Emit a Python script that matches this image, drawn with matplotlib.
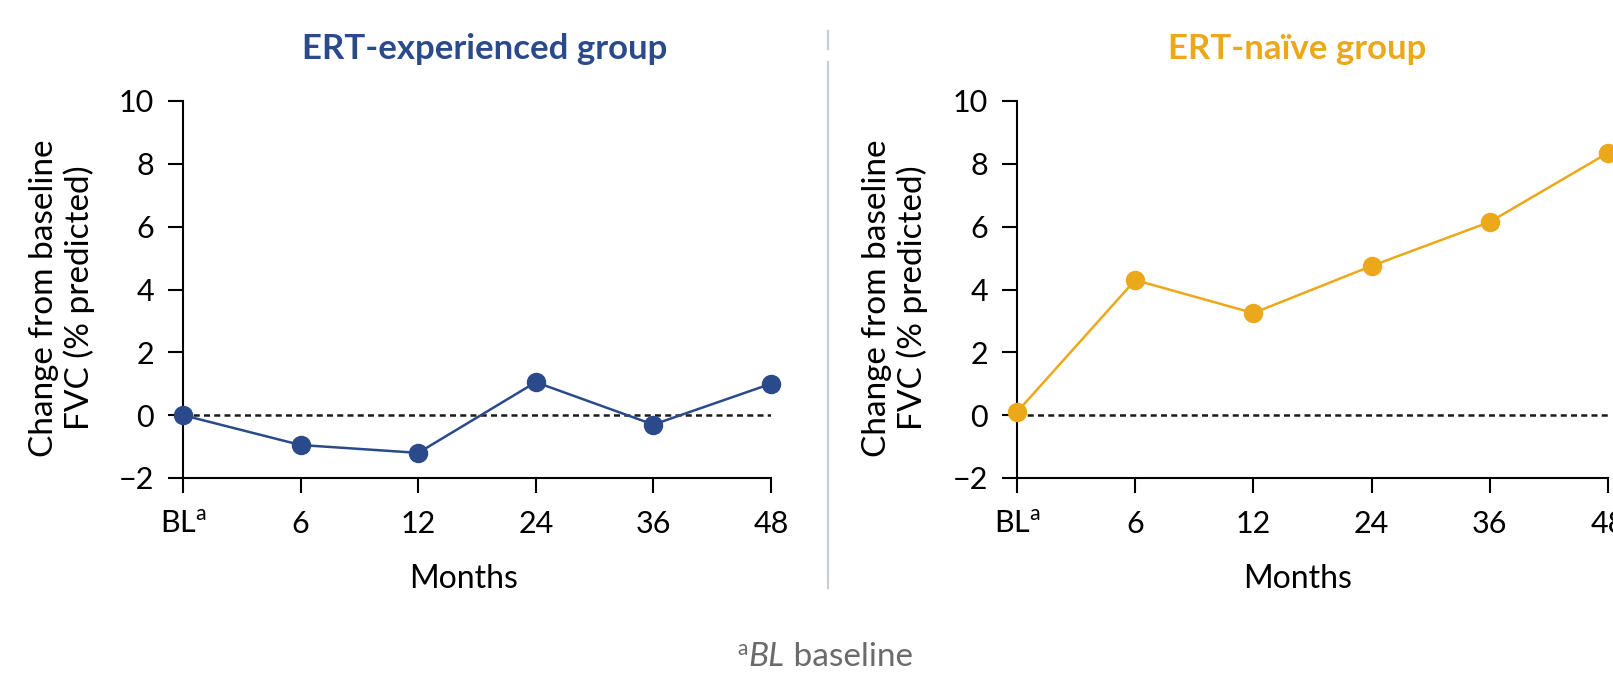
import numpy as np
import matplotlib
matplotlib.use("Agg")
import matplotlib.pyplot as plt
from matplotlib.lines import Line2D

months = ["BL$^{\\mathregular{a}}$", "6", "12", "24", "36", "48"]
experienced = [0.0, -0.95, -1.2, 1.05, -0.3, 1.0]
naive = [0.1, 4.3, 3.25, 4.75, 6.15, 8.35]
yticks = [-2, 0, 2, 4, 6, 8, 10]

blue = "#2b4a8c"
orange = "#eba81a"

plt.rcParams["font.family"] = ["Lato", "DejaVu Sans"]
plt.rcParams["mathtext.fontset"] = "custom"
plt.rcParams["mathtext.rm"] = "Lato"

W, H = 1613, 674
fig = plt.figure(figsize=(W / 100, H / 100), dpi=100)


def px(x, y):
    return x / W, 1 - y / H


def panel(left, right, values, color, title, title_x, label_x, months_x):
    x0, _ = px(left, 0)
    x1, _ = px(right, 0)
    _, y1 = px(0, 101)
    _, y0 = px(0, 478)
    ax = fig.add_axes([x0, y0, x1 - x0, y1 - y0])
    xs = np.arange(len(values))
    ax.axhline(0, color="#1a1a1a", linestyle=(0, (2.4, 1.7)), linewidth=1.8, zorder=1)
    ax.plot(xs, values, color=color, linewidth=1.8, marker="o", markersize=13,
            clip_on=False, zorder=3)
    ax.set_xlim(0, len(values) - 1)
    ax.set_ylim(-2, 10)
    ax.set_yticks(yticks)
    ax.set_xticks(xs)
    ax.set_xticklabels(months)
    for s in ["top", "right"]:
        ax.spines[s].set_visible(False)
    for s in ["left", "bottom"]:
        ax.spines[s].set_linewidth(1.5)
    ax.tick_params(axis="both", direction="out", length=11, width=1.5, labelsize=22)
    ax.tick_params(axis="x", pad=12)
    ax.tick_params(axis="y", pad=10)
    fig.text(*px(title_x, 49), title, color=color, fontsize=25, fontweight="bold",
             ha="center", va="center")
    fig.text(*px(label_x, 298), "Change from baseline\nFVC (% predicted)", rotation=90,
             fontsize=24, ha="center", va="center", linespacing=1.2)
    fig.text(*px(months_x, 579), "Months", fontsize=23, ha="center", va="center")
    return ax


panel(183, 771, experienced, blue, "ERT-experienced group", 485, 62, 464)
panel(1017, 1608, naive, orange, "ERT-naïve group", 1297, 895, 1298)

# divider between the two panels
grey = "#c9cfd2"
fig.add_artist(Line2D([828 / W] * 2, [1 - 31 / H, 1 - 49 / H], color=grey, linewidth=1.6))
fig.add_artist(Line2D([828 / W] * 2, [1 - 62 / H, 1 - 588 / H], color=grey, linewidth=1.6))

# footnote, built from pieces so "a" is raised and "BL" italic
overlay = fig.add_axes([0, 0, 1, 1])
overlay.axis("off")
fn_color = "#6b6b6b"
t1 = overlay.text(*px(737, 655), "a", fontsize=15, color=fn_color, ha="left", va="baseline",
                  transform=fig.transFigure)
t2 = overlay.annotate("BL", xy=(1, 0), xycoords=t1, xytext=(1, -9), textcoords="offset points",
                      fontsize=24, style="italic", color=fn_color, ha="left", va="bottom")
overlay.annotate(" baseline", xy=(1, 0), xycoords=t2, xytext=(0, 0), textcoords="offset points",
                 fontsize=24, color=fn_color, ha="left", va="bottom")

fig.savefig("out.png", dpi=100)
